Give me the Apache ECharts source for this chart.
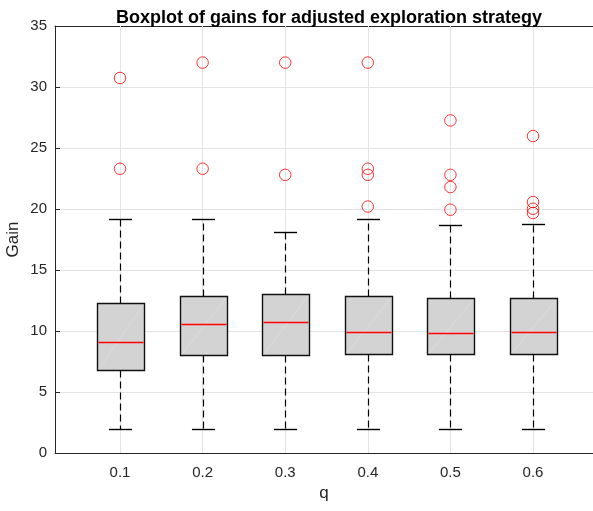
<!DOCTYPE html>
<html>
<head>
<meta charset="utf-8">
<script src="https://cdn.jsdelivr.net/npm/echarts@6/dist/echarts.min.js"></script>
<style>
  html, body { margin: 0; padding: 0; background: #ffffff; }
  #chart { width: 593px; height: 511px; }
</style>
</head>
<body>
<div id="chart"></div>
<script>
// Group labels and their positions on the horizontal axis
const qLabels = ['0.1', '0.2', '0.3', '0.4', '0.5', '0.6'];
const positions = [1, 2, 3, 4, 5, 6];

// Five-number summaries per group
const whiskerLow  = [2.0, 2.0, 2.0, 2.0, 2.0, 2.0];
const q1          = [6.83, 8.06, 8.0, 8.14, 8.14, 8.14];
const medians     = [9.07, 10.57, 10.74, 9.92, 9.84, 9.94];
const q3          = [12.3, 12.9, 13.06, 12.84, 12.7, 12.7];
const whiskerHigh = [19.2, 19.2, 18.14, 19.18, 18.69, 18.74];

// Outlying gains per group
const outliers = [
  [30.74, 23.3],
  [32.0, 23.3],
  [32.0, 22.8],
  [32.0, 23.3, 22.8, 20.2],
  [27.26, 22.8, 21.8, 19.94],
  [25.98, 20.57, 20.02, 19.67]
];

// Gain axis ticks
const yMin = 0, yMax = 35, yStep = 5;

const FONT = '"Liberation Sans", Arial, Helvetica, sans-serif';
const AXIS_COLOR = '#262626';
const GRID_COLOR = '#e3e3e3';

const boxData = positions.map((p, i) => [p, whiskerLow[i], q1[i], medians[i], q3[i], whiskerHigh[i]]);
const outlierData = [];
positions.forEach((p, i) => outliers[i].forEach(v => outlierData.push([p, v])));

const px = v => Math.round(v) + 0.5;

function renderBox(params, api) {
  const x = api.value(0);
  const lo = api.coord([x, api.value(1)]);
  const b1 = api.coord([x, api.value(2)]);
  const md = api.coord([x, api.value(3)]);
  const b3 = api.coord([x, api.value(4)]);
  const hi = api.coord([x, api.value(5)]);
  const boxW = api.size([0.565, 0])[0];
  const capW = api.size([0.28, 0])[0];
  const cx = px(lo[0]);
  const left = px(cx - boxW / 2), right = px(cx + boxW / 2);
  const yTop = px(b3[1]), yBot = px(b1[1]);
  const dash = { stroke: '#000', lineWidth: 1.2, lineDash: [7, 4], fill: null };
  const solid = { stroke: '#000', lineWidth: 1.4, fill: null };
  return {
    type: 'group',
    children: [
      { type: 'line', shape: { x1: cx, y1: yTop, x2: cx, y2: px(hi[1]) }, style: dash },
      { type: 'line', shape: { x1: cx, y1: yBot, x2: cx, y2: px(lo[1]) }, style: dash },
      { type: 'line', shape: { x1: cx - capW / 2, y1: px(hi[1]), x2: cx + capW / 2, y2: px(hi[1]) }, style: solid },
      { type: 'line', shape: { x1: cx - capW / 2, y1: px(lo[1]), x2: cx + capW / 2, y2: px(lo[1]) }, style: solid },
      { type: 'rect', shape: { x: left, y: yTop, width: right - left, height: yBot - yTop },
        style: { fill: '#d3d3d3', stroke: '#111', lineWidth: 1.4 } },
      { type: 'line', shape: { x1: left + 1, y1: yBot - 1, x2: right - 1, y2: yTop + 1 },
        style: { stroke: 'rgba(255,255,255,0.3)', lineWidth: 0.6 } },
      { type: 'line', shape: { x1: left + 1, y1: px(md[1]), x2: right - 1, y2: px(md[1]) },
        style: { stroke: '#ff0000', lineWidth: 1.5 } }
    ]
  };
}

const xRange = { min: 0.213, max: 6.726 };

const chart = echarts.init(document.getElementById('chart'), null, { renderer: 'canvas' });
chart.setOption({
  animation: false,
  backgroundColor: '#ffffff',
  textStyle: { fontFamily: FONT },
  title: {
    text: 'Boxplot of gains for adjusted exploration strategy',
    left: 324,
    top: 4,
    textAlign: 'center',
    textStyle: { fontFamily: FONT, fontSize: 18, fontWeight: 'bold', color: '#000' }
  },
  grid: { left: 55, top: 26, width: 538, height: 427, containLabel: false, outerBoundsMode: 'none' },
  xAxis: [
    {
      type: 'value', position: 'bottom', min: xRange.min, max: xRange.max,
      name: 'q', nameLocation: 'middle', nameGap: 32, nameMoveOverlap: false,
      nameTextStyle: { fontFamily: FONT, fontSize: 17, color: AXIS_COLOR },
      axisLine: { show: true, lineStyle: { color: AXIS_COLOR, width: 1 } },
      axisTick: { show: true, inside: true, length: 5, customValues: positions, lineStyle: { color: AXIS_COLOR } },
      axisLabel: {
        customValues: positions, margin: 12, fontSize: 15, color: AXIS_COLOR, fontFamily: FONT,
        formatter: v => qLabels[positions.indexOf(Math.round(v))]
      },
      splitLine: { show: false }
    },
    {
      type: 'value', position: 'top', min: xRange.min, max: xRange.max,
      axisLine: { show: true, lineStyle: { color: AXIS_COLOR, width: 1 } },
      axisTick: { show: true, inside: true, length: 5, customValues: positions, lineStyle: { color: AXIS_COLOR } },
      axisLabel: { show: false },
      splitLine: { show: false }
    }
  ],
  yAxis: [
    {
      type: 'value', min: yMin, max: yMax, interval: yStep,
      name: 'Gain', nameLocation: 'middle', nameGap: 33, nameRotate: 90, nameMoveOverlap: false,
      nameTextStyle: { fontFamily: FONT, fontSize: 17, color: AXIS_COLOR },
      axisLine: { show: true, lineStyle: { color: AXIS_COLOR, width: 1 } },
      axisTick: { show: true, inside: true, length: 5, lineStyle: { color: AXIS_COLOR } },
      axisLabel: { margin: 8, fontSize: 15, color: AXIS_COLOR, fontFamily: FONT },
      splitLine: { show: true, lineStyle: { color: GRID_COLOR, width: 1 } }
    }
  ],
  series: [
    {
      type: 'line', data: [], z: 1, silent: true,
      markLine: {
        z: 1, silent: true, symbol: ['none', 'none'], label: { show: false },
        lineStyle: { color: GRID_COLOR, type: 'solid', width: 1 },
        data: positions.map(p => ({ xAxis: p }))
      }
    },
    {
      type: 'custom', z: 3, xAxisIndex: 0, yAxisIndex: 0,
      renderItem: renderBox,
      encode: { x: 0, y: [1, 2, 3, 4, 5] },
      data: boxData
    },
    {
      type: 'scatter', z: 4, xAxisIndex: 0, yAxisIndex: 0,
      symbol: 'circle', symbolSize: 11.5,
      itemStyle: { color: 'rgba(0,0,0,0)', borderColor: '#ff0000', borderWidth: 1 },
      data: outlierData
    }
  ]
});
</script>
</body>
</html>
